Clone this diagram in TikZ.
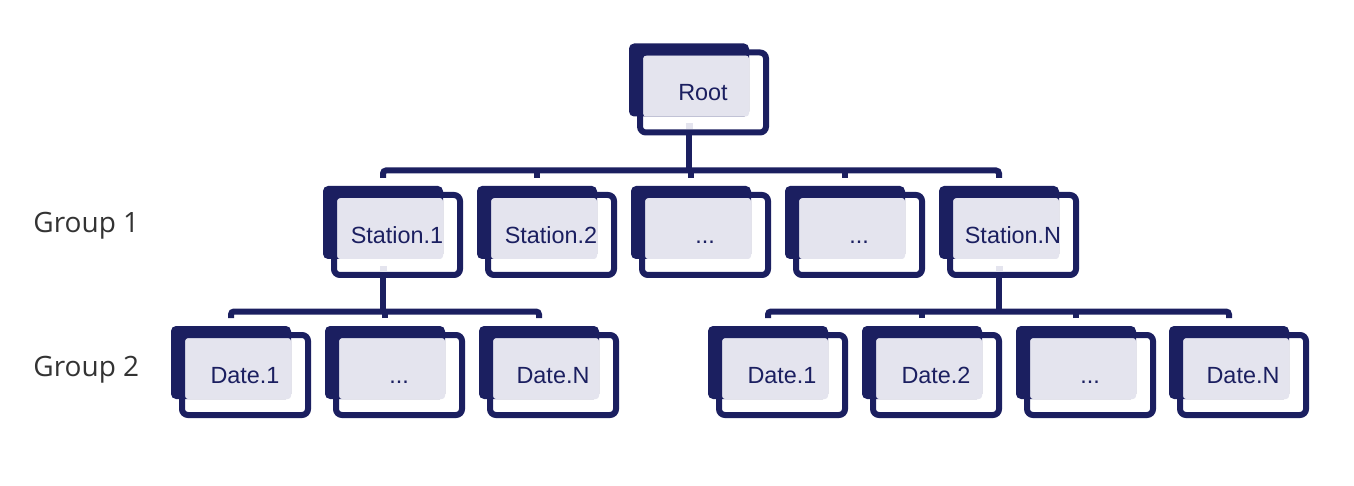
\documentclass[tikz,border=0pt]{standalone}
\usepackage{fontspec}
\setmainfont{Liberation Sans}
\newfontfamily\grpfont{Open Sans}
\usepackage{tikz}
\usetikzlibrary{positioning, calc, backgrounds}
\definecolor{mynavy}{RGB}{27,31,96}
\definecolor{hdrnavy}{RGB}{228,228,238}
\definecolor{mygray}{RGB}{51,51,51}
\tikzset{
  box/.style={rectangle, draw=mynavy, line width=3pt, rounded corners=3pt,
    minimum width=63pt, minimum height=40pt, inner sep=0pt, outer sep=0pt,
    text=mynavy, font=\fontsize{11.7}{14}\selectfont,
    text height=8.4pt, text depth=0pt},
  backfill/.style={fill=mynavy, rounded corners=2.5pt},
  lightfill/.style={fill=hdrnavy, rounded corners=1.5pt},
  grp/.style={anchor=west, text=mygray, inner sep=0pt,
    font=\grpfont\fontsize{14}{17}\selectfont, text height=10pt, text depth=0pt},
  link/.style={draw=mynavy, line width=3pt, rounded corners=1.5pt},
  notch/.style={fill=hdrnavy}
}

\begin{document}
\begin{tikzpicture}[x=0.5pt, y=-0.5pt]
  \useasboundingbox (0,0) rectangle (1354,486);
  % Levels
  \node[grp] (grp1) at (33,223) {Group 1};
  \node[grp] (grp2) at (33,366) {Group 2};
  % Root
  \node[box] (root) at (703,92.5) {Root};
  % Stations
  \node[box] (st1) at (397,235) {Station.1};
  \node[box] (st2) at (551,235) {Station.2};
  \node[box] (st3) at (705,235) {...};
  \node[box] (st4) at (859,235) {...};
  \node[box] (stN) at (1013,235) {Station.N};
  % Dates of station 1
  \node[box] (a1) at (245,375) {Date.1};
  \node[box] (a2) at (399,375) {...};
  \node[box] (aN) at (553,375) {Date.N};
  % Dates of station N
  \node[box] (b1) at (782,375) {Date.1};
  \node[box] (b2) at (936,375) {Date.2};
  \node[box] (b3) at (1090,375) {...};
  \node[box] (bN) at (1243,375) {Date.N};
  % Attach points and shadow cards
  \foreach \n in {root,st1,st2,st3,st4,stN,a1,a2,aN,b1,b2,b3,bN} {
    \coordinate (\n-up) at ($(\n.north)+(-14,-17)$);
    \coordinate (\n-dn) at ($(\n.south)+(-14,0)$);
  }
  \begin{pgfonlayer}{background}
    \foreach \n in {root,st1,st2,st3,st4,stN,a1,a2,aN,b1,b2,b3,bN} {
      \fill[backfill] ($(\n.north west)+(-11,-9)$) rectangle ($(\n.south east)+(-17,-16)$);
      \fill[lightfill] ($(\n.north west)+(3,3)$) rectangle ($(\n.south east)+(-17,-16)$);
    }
  \end{pgfonlayer}
  % Buses
  \coordinate (bus1) at (0,170.5);
  \coordinate (bus2) at (0,311.5);
  \draw[link] (root-dn) -- (root-dn |- bus1);
  \draw[link] (st1-up) |- (bus1 -| stN-up) -- (stN-up);
  \draw[link] (st2-up) -- (st2-up |- bus1);
  \draw[link] (st3-up) -- (st3-up |- bus1);
  \draw[link] (st4-up) -- (st4-up |- bus1);
  \draw[link] (st1-dn) -- (st1-dn |- bus2);
  \draw[link] (a1-up) |- (bus2 -| aN-up) -- (aN-up);
  \draw[link] (a2-up) -- (a2-up |- bus2);
  \draw[link] (stN-dn) -- (stN-dn |- bus2);
  \draw[link] (b1-up) |- (bus2 -| bN-up) -- (bN-up);
  \draw[link] (b2-up) -- (b2-up |- bus2);
  \draw[link] (b3-up) -- (b3-up |- bus2);
  % Light notches above the outgoing lines
  \fill[notch] ($(root-dn)+(-3.5,-9)$) rectangle ($(root-dn)+(3.5,-3)$);
  \fill[notch] ($(st1-dn)+(-3.5,-9)$) rectangle ($(st1-dn)+(3.5,-3)$);
  \fill[notch] ($(stN-dn)+(-3.5,-9)$) rectangle ($(stN-dn)+(3.5,-3)$);
\end{tikzpicture}
\end{document}
